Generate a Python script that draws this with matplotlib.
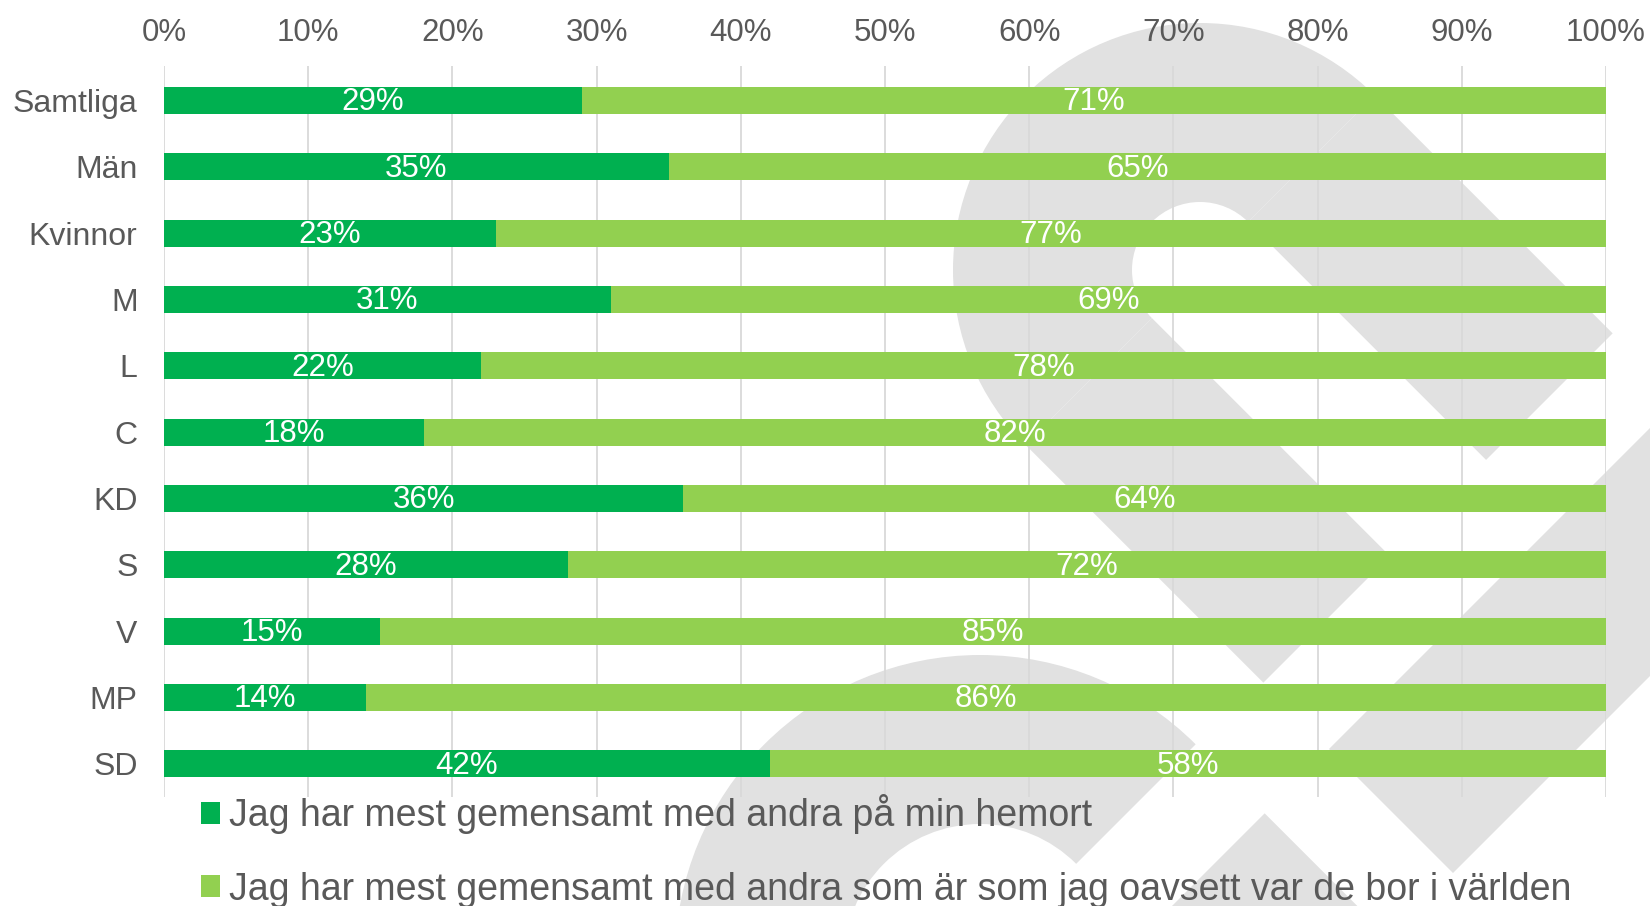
import numpy as np
import matplotlib
matplotlib.use("Agg")
import matplotlib.pyplot as plt
from matplotlib.patches import Wedge, Polygon

plt.rcParams['font.family'] = ['Liberation Sans', 'DejaVu Sans']

categories = ["Samtliga", "Män", "Kvinnor", "M", "L", "C", "KD", "S", "V", "MP", "SD"]
hemort = [29, 35, 23, 31, 22, 18, 36, 28, 15, 14, 42]
varlden = [71, 65, 77, 69, 78, 82, 64, 72, 85, 86, 58]
series_labels = ["Jag har mest gemensamt med andra på min hemort",
                 "Jag har mest gemensamt med andra som är som jag oavsett var de bor i världen"]
xticks = list(range(0, 101, 10))

W, H = 1650, 906
DARK = "#00B050"
LIGHT = "#92D050"
GREY_TXT = "#595959"
WM = "#E1E1E1"

fig = plt.figure(figsize=(W / 100, H / 100), dpi=100)

# faint logo watermark behind the chart (pixel coordinates, y down)
bg = fig.add_axes([0, 0, 1, 1], zorder=0)
bg.set_xlim(0, W)
bg.set_ylim(H, 0)
bg.axis("off")


def band(p_in, p_out, k_from, k_to):
    # stretch two points along the (1, 1) direction between the lines x + y = k
    def mv(p, k):
        t = (k - p[0] - p[1]) / 2
        return (p[0] + t, p[1] + t)
    return [mv(p_in, k_from), mv(p_out, k_from), mv(p_out, k_to), mv(p_in, k_to)]


def u_shape(c, r_in, r_out, legs):
    bg.add_patch(Wedge(c, r_out, 135, 315, width=r_out - r_in, color=WM, lw=0))
    s = np.sqrt(0.5)
    for sign, k_from, k_to in legs:
        u = np.array([s, -s]) * sign
        p_in = np.array(c) + r_in * u
        p_out = np.array(c) + r_out * u
        bg.add_patch(Polygon(band(p_in, p_out, k_from, k_to), color=WM, lw=0))


u_shape((1200, 270), 68, 247, [(1, 1470, 1946), (-1, 1470, 1946)])
u_shape((980, 960), 136, 305, [(1, 2078, 3400)])
bg.add_patch(Polygon([(1329, 749), (1453, 873), (2453, -127), (2329, -251)], color=WM, lw=0))

# the chart itself
ax = fig.add_axes([164 / W, 1 - 797 / H, 1442 / W, 731 / H], zorder=1)
ax.set_facecolor("none")

y = np.arange(len(categories))
b1 = ax.barh(y, hemort, height=0.41, color=DARK, label=series_labels[0], zorder=2)
b2 = ax.barh(y, varlden, left=hemort, height=0.41, color=LIGHT, label=series_labels[1], zorder=2)

for i in range(len(categories)):
    ax.text(hemort[i] / 2, y[i] + 0.03, f"{hemort[i]}%", ha="center", va="center",
            color="white", fontsize=22.5, zorder=3)
    ax.text(hemort[i] + varlden[i] / 2, y[i] + 0.03, f"{varlden[i]}%", ha="center", va="center",
            color="white", fontsize=22.5, zorder=3)

ax.set_xlim(0, 100)
ax.set_ylim(len(categories) - 0.5, -0.52)
ax.set_xticks(xticks)
ax.set_xticklabels([f"{t}%" for t in xticks])
ax.xaxis.tick_top()
ax.set_yticks(y)
ax.set_yticklabels(categories)
ax.tick_params(axis="x", length=0, pad=13, labelsize=22.5, labelcolor=GREY_TXT)
ax.tick_params(axis="y", length=0, pad=19, labelsize=23, labelcolor=GREY_TXT)
ax.grid(axis="x", color="#D9D9D9", linewidth=1.3, zorder=1)
ax.set_axisbelow(True)
for sp in ax.spines.values():
    sp.set_visible(False)

fig.legend(handles=[b1, b2], labels=series_labels, loc="upper left",
           bbox_to_anchor=(201 / W, 1 - 794 / H), frameon=False, fontsize=27,
           handlelength=0.51, handleheight=0.51, handletextpad=0.24,
           labelspacing=1.0, borderpad=0, borderaxespad=0, labelcolor=GREY_TXT)

fig.savefig("out.png", dpi=100)
